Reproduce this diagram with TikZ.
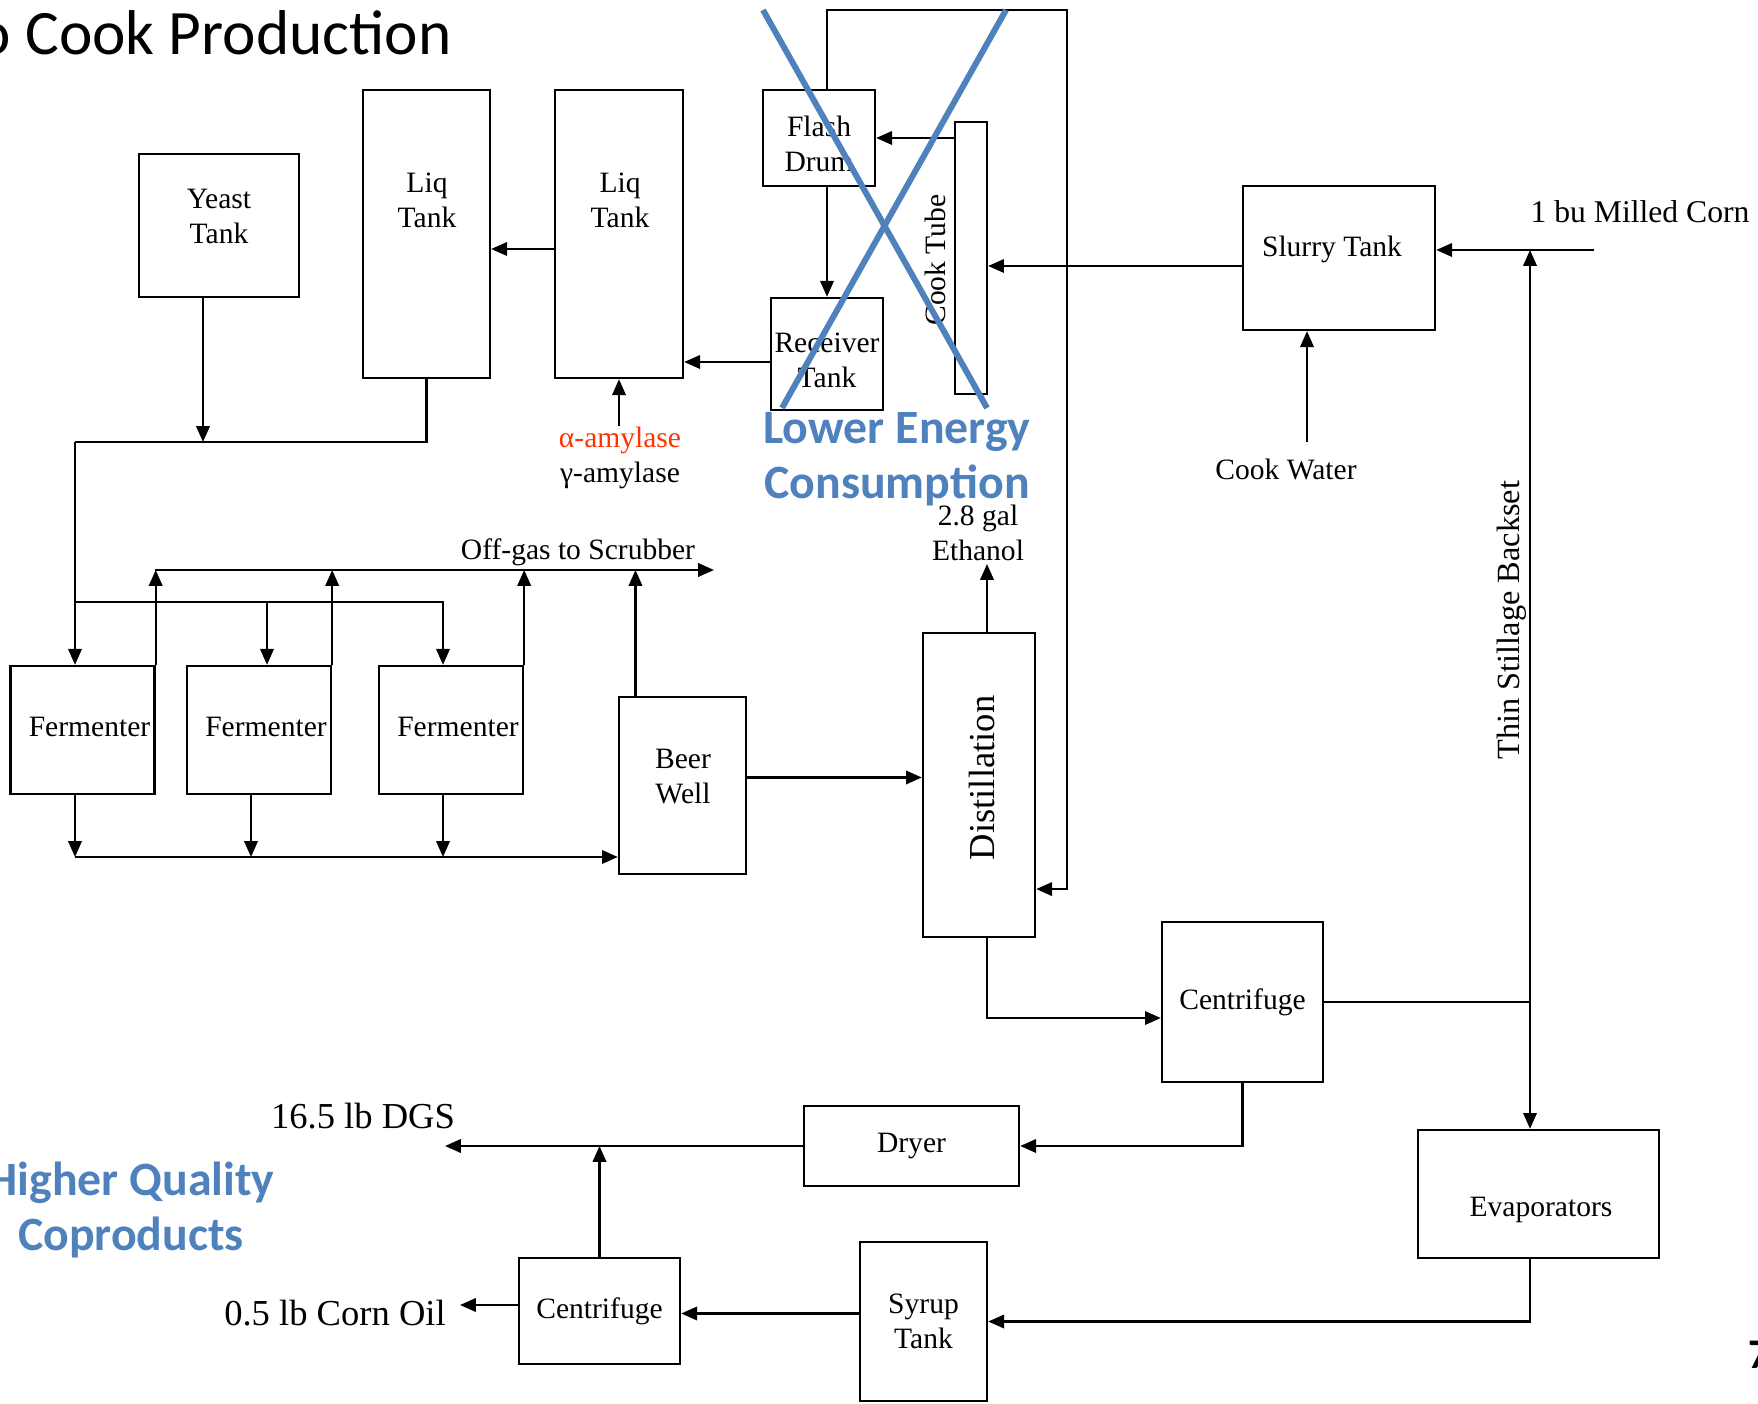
\documentclass[tikz,border=0pt]{standalone}
\usepackage{fontspec}
\setmainfont{Liberation Serif}
\newfontfamily\slidefont{Carlito}
\usetikzlibrary{arrows.meta}
\definecolor{slideblue}{RGB}{79,129,189}
\definecolor{amyred}{RGB}{255,51,0}
\newcommand{\boxtextsize}{\fontsize{8.4pt}{10pt}\selectfont}
\newcommand{\largetextsize}{\fontsize{10.4pt}{12pt}\selectfont}

\tikzset{
  box/.style={draw, line width=0.65pt, inner sep=0pt, align=center, font=\boxtextsize},
  lbl/.style={inner sep=0pt, align=center, font=\boxtextsize},
  flow/.style={line width=0.65pt, -{Triangle[length=4.5pt,width=3.8pt]}},
  pipe/.style={line width=0.65pt},
  note/.style={inner sep=0pt, align=center, text=slideblue,
    font=\slidefont\bfseries\fontsize{13.6pt}{15.6pt}\selectfont},
  cross/.style={slideblue, line width=1.7pt},
}

\begin{document}
\begin{tikzpicture}[x=0.01cm, y=-0.01cm]
    \useasboundingbox (0,0) rectangle (1758,1404);

    % titulo e numero da pagina
    \node[anchor=base east, inner sep=0pt, font=\slidefont\fontsize{18pt}{20pt}\selectfont] (title) at (452,55) {No Cook Production};
    \node[anchor=base west, inner sep=0pt, font=\slidefont\bfseries\fontsize{12pt}{14pt}\selectfont] (pageno) at (1748,1368) {7};

    % cozimento e liquefacao
    \node[box, minimum width=1.6cm, minimum height=1.43cm] (yeast) at (219,225.5) {};
    \node[lbl] (yeasttxt) at (219,216.5) {Yeast\\Tank};
    \node[box, minimum width=1.27cm, minimum height=2.88cm] (liqA) at (426.5,234) {};
    \node[lbl] (liqAtxt) at (427,200) {Liq\\Tank};
    \node[box, minimum width=1.28cm, minimum height=2.88cm] (liqB) at (619,234) {};
    \node[lbl] (liqBtxt) at (620,200) {Liq\\Tank};
    \node[box, minimum width=1.12cm, minimum height=0.96cm] (flash) at (819,138) {};
    \node[lbl] (flashtxt) at (819,144) {Flash\\Drum};
    \node[box, minimum width=0.32cm, minimum height=2.72cm] (cook) at (971,258) {};
    \node[lbl, rotate=90] (cooktxt) at (935,260) {Cook Tube};
    \node[box, minimum width=1.12cm, minimum height=1.12cm] (receiver) at (827,354) {};
    \node[lbl] (receivertxt) at (827,360.5) {Receiver\\Tank};
    \node[box, minimum width=1.92cm, minimum height=1.44cm] (slurry) at (1339,258) {};
    \node[lbl, anchor=base] (slurrytxt) at (1332,257) {Slurry Tank};

    % fermentacao
    \foreach \i/\x in {1/82.5, 2/259, 3/451} {
        \node[box, minimum width=1.44cm, minimum height=1.28cm] (ferm\i) at (\x,730) {};
        \node[lbl] (ferm\i txt) at (\x+7,727) {Fermenter};
    }
    \node[box, minimum width=1.27cm, minimum height=1.77cm] (beer) at (682.5,785.5) {};
    \node[lbl] (beertxt) at (683,776.5) {Beer\\Well};

    % destilacao e coprodutos
    \node[box, minimum width=1.12cm, minimum height=3.04cm] (distill) at (979,785) {};
    \node[rotate=90, inner sep=0pt, font=\largetextsize] (distilltxt) at (982,778) {Distillation};
    \node[box, minimum width=1.61cm, minimum height=1.6cm] (centA) at (1242.5,1002) {Centrifuge};
    \node[box, minimum width=2.15cm, minimum height=0.8cm] (dryer) at (911.5,1146) {Dryer};
    \node[box, minimum width=2.41cm, minimum height=1.28cm] (evap) at (1538.5,1194) {};
    \node[lbl, anchor=base] (evaptxt) at (1541,1216) {Evaporators};
    \node[box, minimum width=1.27cm, minimum height=1.59cm] (syrup) at (923.5,1321.5) {Syrup\\Tank};
    \node[box, minimum width=1.61cm, minimum height=1.06cm] (centB) at (599.5,1311) {Centrifuge};

    % pontos livres
    \coordinate (cornIn) at (1594,250);
    \coordinate (waterIn) at (1307,442);
    \coordinate (amyIn) at (619,426);
    \coordinate (feedL) at (75,442);
    \coordinate (distL) at (75,602);
    \coordinate (gasL) at (155,570);
    \coordinate (gasEnd) at (714,570);
    \coordinate (collL) at (75,857);
    \coordinate (ethOut) at (987,564);
    \coordinate (bsJ) at (1530,1002);
    \coordinate (dgsOut) at (445,1146);
    \coordinate (oilOut) at (460,1305);
    \coordinate (loopTR) at (1067,10);

    % linhas do cozimento
    \draw[flow] (cornIn) -- (cornIn -| slurry.east);
    \draw[flow] (waterIn) -- (waterIn |- slurry.south);
    \draw[flow] ([yshift=-0.08cm]slurry.west) -- ([yshift=-0.08cm]slurry.west -| cook.east);
    \draw[flow] (cook.west |- flash.east) -- (flash.east);
    \draw[flow] ([xshift=0.08cm]flash.south) -- ([xshift=0.08cm]flash.south |- receiver.north);
    \draw[flow] ([yshift=-0.08cm]receiver.west) -- ([yshift=-0.08cm]receiver.west -| liqB.east);
    \draw[flow] ([yshift=-0.15cm]liqB.west) -- ([yshift=-0.15cm]liqB.west -| liqA.east);
    \draw[flow] (amyIn) -- (liqB.south);
    \draw[flow] ([xshift=0.08cm]flash.north) |- (loopTR) |- ([yshift=-1.04cm]distill.east);

    % alimentacao dos fermentadores
    \draw[pipe] (liqA.south) |- (feedL);
    \draw[flow] ([xshift=-0.16cm]yeast.south) -- ([xshift=-0.16cm]yeast.south |- feedL);
    \draw[flow] (feedL) -- (feedL |- ferm1.north);
    \draw[flow] (distL) -| ([xshift=-0.08cm]ferm3.north);
    \draw[flow] ([xshift=0.08cm]ferm2.north |- distL) -- ([xshift=0.08cm]ferm2.north);

    % gases e cerveja
    \draw[flow] (gasL) -- (gasEnd);
    \foreach \f in {ferm1,ferm2,ferm3}
        \draw[flow] (\f.north east) -- (\f.north east |- gasL);
    \draw[flow] ([xshift=-0.47cm]beer.north) -- ([xshift=-0.47cm]beer.north |- gasL);
    \draw[flow] (collL) -- (collL -| beer.west);
    \draw[flow] (collL |- ferm1.south) -- (collL);
    \draw[flow] ([xshift=-0.08cm]ferm2.south) -- ([xshift=-0.08cm]ferm2.south |- collL);
    \draw[flow] ([xshift=-0.08cm]ferm3.south) -- ([xshift=-0.08cm]ferm3.south |- collL);
    \draw[flow] ([yshift=0.08cm]beer.east) -- ([yshift=0.08cm]beer.east -| distill.west);

    % destilacao em diante
    \draw[flow] (distill.north -| ethOut) -- (ethOut);
    \draw[flow] ([xshift=0.08cm]distill.south) |- ([yshift=-0.16cm]centA.west);
    \draw[pipe] (centA.east) -- (bsJ);
    \draw[flow] (bsJ) -- (bsJ |- cornIn);
    \draw[flow] (bsJ) -- (bsJ |- evap.north);
    \draw[flow] (bsJ |- evap.south) |- (syrup.east);
    \draw[flow] ([yshift=0.08cm]syrup.west) -- ([yshift=0.08cm]syrup.west -| centB.east);
    \draw[flow] (centB.west |- oilOut) -- (oilOut);
    \draw[flow] (centB.north) -- (centB.north |- dgsOut);
    \draw[flow] (dryer.west) -- (dgsOut);
    \draw[flow] (centA.south) |- (dryer.east);

    % textos
    \node[lbl, anchor=base, font=\fontsize{9pt}{10pt}\selectfont] (cornTxt) at (1640,223) {1 bu Milled Corn};
    \node[lbl, anchor=base] (waterTxt) at (1286,480) {Cook Water};
    \node[lbl] (amyTxt) at (620,458) {\textcolor{amyred}{α-amylase}\\γ-amylase};
    \node[lbl] (ethTxt) at (978,533) {2.8 gal\\Ethanol};
    \node[lbl, anchor=base] (gasTxt) at (578,560) {Off-gas to Scrubber};
    \node[lbl, rotate=90, font=\fontsize{9.2pt}{10pt}\selectfont] (bsTxt) at (1512,620) {Thin Stillage Backset};
    \node[anchor=base, inner sep=0pt, font=\largetextsize] (dgsTxt) at (363,1128) {16.5 lb DGS};
    \node[anchor=base, inner sep=0pt, font=\largetextsize] (oilTxt) at (335,1325) {0.5 lb Corn Oil};
    \node[note] (energyTxt) at (897,459) {Lower Energy\\Consumption};
    \node[note] (qualityTxt) at (131,1210) {Higher Quality\\Coproducts};

    % X sobre o cozimento
    \draw[cross] (763,10) -- (987,408);
    \draw[cross] (1006,10) -- (782,408);
\end{tikzpicture}
\end{document}
